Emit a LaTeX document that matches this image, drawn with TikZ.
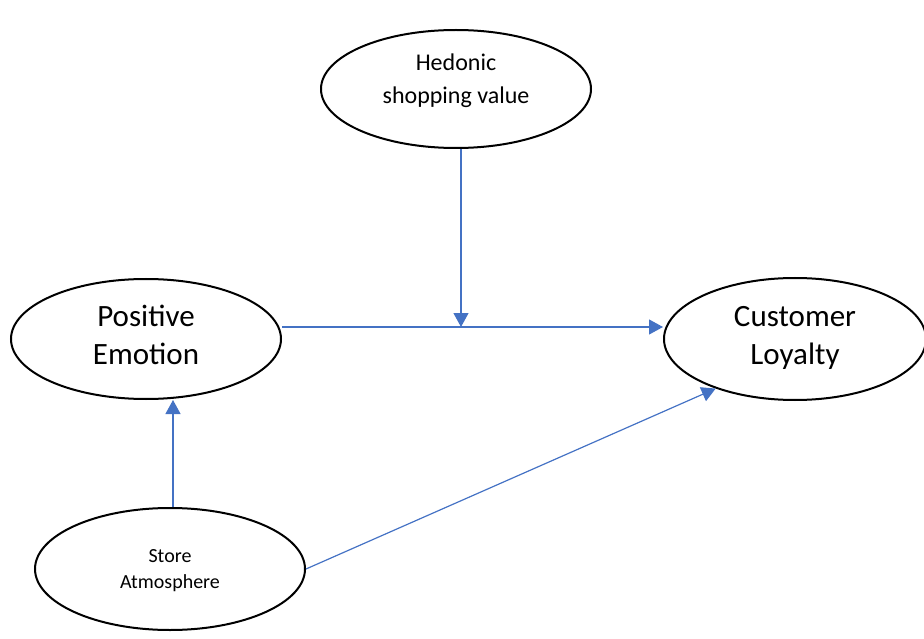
\documentclass[tikz,border=0pt]{standalone}
\usepackage{fontspec}
\setmainfont{Carlito}
\usetikzlibrary{shapes.geometric,arrows.meta}
\definecolor{arrowblue}{HTML}{4472C4}
\tikzset{
  construct/.style={ellipse, draw=black, line width=2pt, inner sep=0pt, fill=white},
  label text/.style={align=center, inner sep=0pt},
  link/.style={draw=arrowblue, line width=1.2pt, -{Triangle[length=14pt,width=15pt]}},
}
\begin{document}
\begin{tikzpicture}[x=1pt,y=-1pt]
\useasboundingbox (0,0) rectangle (924,639);
\node[construct, minimum width=270pt, minimum height=118pt] (hed) at (456,89) {};
\node[construct, minimum width=270pt, minimum height=120pt] (pe) at (146,339) {};
\node[construct, minimum width=262pt, minimum height=122pt] (cl) at (795,339) {};
\node[construct, minimum width=270pt, minimum height=122pt] (sa) at (170,569) {};
\node[label text, font=\fontsize{24}{33}\selectfont] (hedt) at ([yshift=8pt]hed.center) {Hedonic\\shopping value};
\node[label text, font=\fontsize{31}{38}\selectfont] (pet) at ([yshift=4pt]pe.center) {Positive\\Emotion};
\node[label text, font=\fontsize{31}{38}\selectfont] (clt) at ([yshift=1pt]cl.center) {Customer\\Loyalty};
\node[label text, font=\fontsize{20}{26}\selectfont] (sat) at ([yshift=-2pt]sa.center) {Store\\Atmosphere};
\coordinate (j) at (461,327);
\coordinate (su) at (173,508);
\draw[link] (pe.east |- j) -- (cl.west |- j);
\draw[link] (hed.south -| j) -- (j);
\draw[link] (sa.north -| su) -- (pe.south -| su);
\draw[link] (sa.east) -- (cl.212);
\end{tikzpicture}
\end{document}
